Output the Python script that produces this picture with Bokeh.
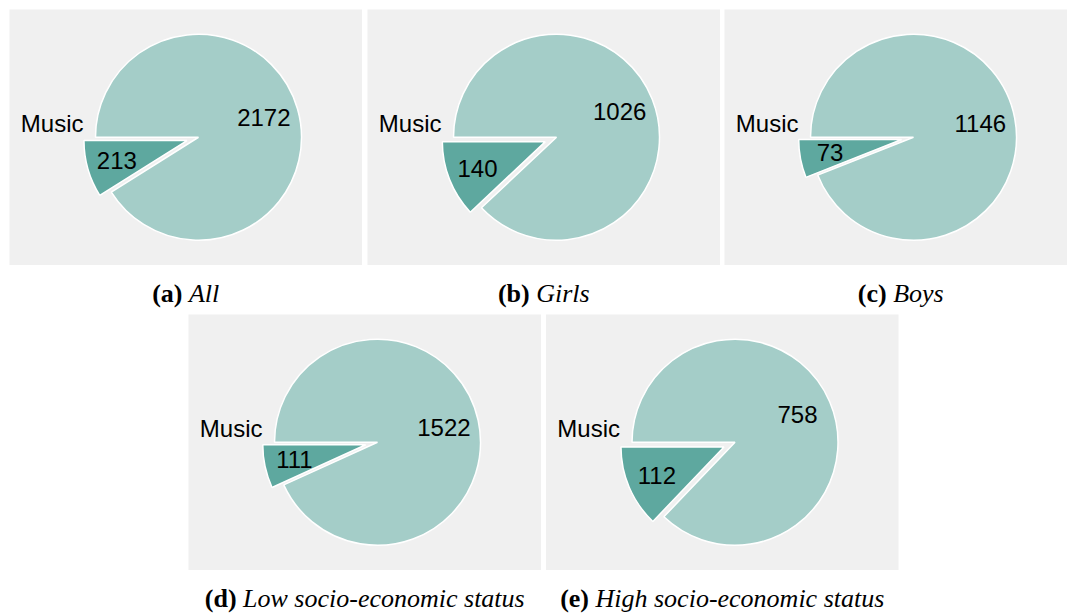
import math
from bokeh.plotting import figure
from bokeh.models import Range1d
from bokeh.core.properties import value
from bokeh.embed import file_html
from bokeh.resources import INLINE

# ---- data ----
letters = ["(a)", "(b)", "(c)", "(d)", "(e)"]
groups = ["All", "Girls", "Boys", "Low socio-economic status", "High socio-economic status"]
category = "Music"
music = [213, 140, 73, 111, 112]
other = [2172, 1026, 1146, 1522, 758]

# ---- layout (screen pixels, y downward) ----
FW, FH = 1067, 614
panel_left = [9, 367, 724, 188, 545.5]
panel_top = [9, 9, 9, 314, 314]
PW, PH = 352.5, 255.5
R = 103
EXPLODE = 12
MAIN_COL = "#a4cdc8"
MUSIC_COL = "#5ea89f"
BG = "#f0f0f0"
SANS = "Liberation Sans"
SERIF = "Liberation Serif"
LFS = 24
CFS = 26
TXT_SHIFT = 9  # renderer baseline correction (px)

# Times metrics (per 1000 em) for centring mixed bold/italic captions
BOLD_W = {'(': 333, ')': 333, 'a': 500, 'b': 556, 'c': 444, 'd': 556, 'e': 444}
ITAL_W = {'A': 611, 'l': 278, 'G': 722, 'i': 278, 'r': 389, 's': 389, 'B': 611,
          'o': 500, 'y': 444, 'L': 556, 'w': 667, 'c': 444, '-': 333, 'e': 444,
          'n': 500, 'm': 722, 't': 278, 'a': 500, 'u': 500, 'H': 722, 'g': 500,
          'h': 500, ' ': 250}

def tw(s, table, fs):
    return sum(table.get(ch, 500) for ch in s) * fs / 1000.0

p = figure(width=FW, height=FH, x_range=Range1d(0, FW), y_range=Range1d(-FH, 0),
           output_backend="svg", toolbar_location=None, min_border=0,
           x_axis_type=None, y_axis_type=None)
p.grid.visible = False
p.outline_line_color = None
p.background_fill_color = "white"
p.border_fill_color = "white"

# panels
p.quad(left=panel_left, right=[l + PW for l in panel_left],
       top=[-t for t in panel_top], bottom=[-(t + PH) for t in panel_top],
       fill_color=BG, line_color=None)

mx, my, ms, me = [], [], [], []
ox, oy, os_, oe = [], [], [], []
lab_x, lab_y, lab_t = [], [], []
cat_x, cat_y = [], []
cb_x, cb_y, cb_t = [], [], []
ci_x, ci_y, ci_t = [], [], []
cap_h = 0.716 * LFS

for i in range(5):
    cx = panel_left[i] + 189
    cy = -(panel_top[i] + PH / 2)
    frac = music[i] / (music[i] + other[i])
    a0 = math.pi
    a1 = math.pi + 2 * math.pi * frac
    a2 = 3 * math.pi
    bm = (a0 + a1) / 2
    bo = (a1 + a2) / 2
    ex = cx + EXPLODE * math.cos(bm)
    ey = cy + EXPLODE * math.sin(bm)
    mx.append(ex); my.append(ey); ms.append(a0); me.append(a1)
    ox.append(cx); oy.append(cy); os_.append(a1); oe.append(a2)
    # value labels
    lab_x.append(ex + 73 * math.cos(bm))
    lab_y.append(ey + 73 * math.sin(bm) - cap_h / 2 + TXT_SHIFT)
    lab_t.append(str(music[i]))
    lab_x.append(cx + 68 * math.cos(bo))
    lab_y.append(cy + 70 * math.sin(bo) - cap_h / 2 + TXT_SHIFT)
    lab_t.append(str(other[i]))
    # category label
    cat_x.append(cx - 115); cat_y.append(cy + 4.3 + TXT_SHIFT)
    # caption
    pcx = panel_left[i] + PW / 2
    base = panel_top[i] + PH + 37
    wb = tw(letters[i], BOLD_W, CFS)
    wsp = 250 * CFS / 1000.0
    wi = tw(groups[i], ITAL_W, CFS)
    x0 = pcx - (wb + wsp + wi) / 2
    cb_x.append(x0); cb_y.append(-base + TXT_SHIFT); cb_t.append(letters[i])
    ci_x.append(x0 + wb + wsp); ci_y.append(-base + TXT_SHIFT); ci_t.append(groups[i])

p.wedge(x=ox, y=oy, radius=R, start_angle=os_, end_angle=oe, direction="anticlock",
        fill_color=MAIN_COL, line_color="white", line_width=1.5)
p.wedge(x=mx, y=my, radius=R, start_angle=ms, end_angle=me, direction="anticlock",
        fill_color=MUSIC_COL, line_color="white", line_width=1.5)

p.text(x=lab_x, y=lab_y, text=lab_t, text_align="center", text_baseline="alphabetic",
       text_font=value(SANS), text_font_size=f"{LFS}px", text_color="black")
p.text(x=cat_x, y=cat_y, text=[category] * 5, text_align="right", text_baseline="alphabetic",
       text_font=value(SANS), text_font_size=f"{LFS}px", text_color="black")
p.text(x=cb_x, y=cb_y, text=cb_t, text_align="left", text_baseline="alphabetic",
       text_font=value(SERIF), text_font_size=f"{CFS}px", text_font_style="bold",
       text_color="black")
p.text(x=ci_x, y=ci_y, text=ci_t, text_align="left", text_baseline="alphabetic",
       text_font=value(SERIF), text_font_size=f"{CFS}px", text_font_style="italic",
       text_color="black")

open("out.html", "w").write(file_html(p, INLINE))
